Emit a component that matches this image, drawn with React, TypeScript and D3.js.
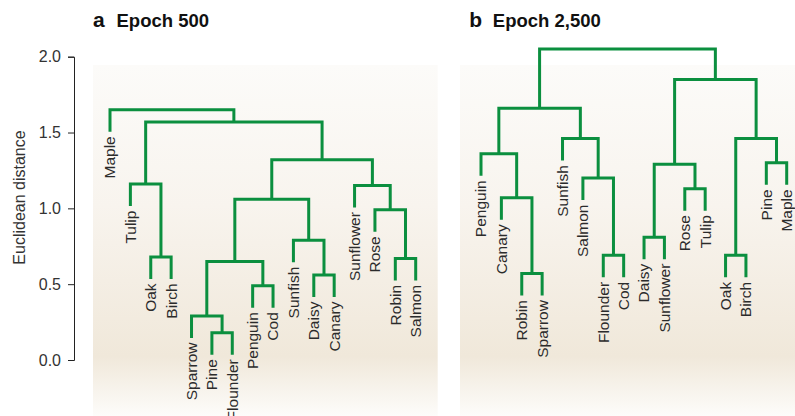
import React, { useEffect, useRef } from "react";
import * as d3 from "d3";

// leaf order (left to right) and linkage rows [childA, childB, height]
// indices < 16 are leaves, >= 16 refer to earlier rows
const leavesA = ["Maple", "Tulip", "Oak", "Birch", "Sparrow", "Pine", "Flounder", "Penguin", "Cod", "Sunfish", "Daisy", "Canary", "Sunflower", "Rose", "Robin", "Salmon"];
const mergesA: [number, number, number][] = [
  [5, 6, 0.18],
  [4, 16, 0.29],
  [7, 8, 0.49],
  [10, 11, 0.56],
  [17, 18, 0.65],
  [14, 15, 0.67],
  [2, 3, 0.68],
  [9, 19, 0.79],
  [13, 21, 0.99],
  [20, 23, 1.06],
  [12, 24, 1.15],
  [1, 22, 1.16],
  [25, 26, 1.32],
  [27, 28, 1.57],
  [0, 29, 1.65],
];

const leavesB = ["Penguin", "Canary", "Robin", "Sparrow", "Sunfish", "Salmon", "Flounder", "Cod", "Daisy", "Sunflower", "Rose", "Tulip", "Oak", "Birch", "Pine", "Maple"];
const mergesB: [number, number, number][] = [
  [2, 3, 0.57],
  [6, 7, 0.69],
  [12, 13, 0.69],
  [8, 9, 0.81],
  [1, 16, 1.07],
  [10, 11, 1.13],
  [5, 17, 1.2],
  [19, 21, 1.29],
  [14, 15, 1.3],
  [0, 20, 1.36],
  [4, 22, 1.46],
  [18, 24, 1.46],
  [25, 26, 1.66],
  [23, 27, 1.85],
  [28, 29, 2.05],
];

const yTicks = [0, 0.5, 1.0, 1.5, 2.0];

const GREEN = "#0b8f3f";
const TEXT = "#2b2b2b";
const FONT = "'Liberation Sans', Arial, Helvetica, sans-serif";
const STUB = 22;

export default function App() {
  const ref = useRef<SVGSVGElement>(null);

  useEffect(() => {
    const svg = d3.select(ref.current);
    svg.selectAll("*").remove();

    const y = d3.scaleLinear().domain([0, 2]).range([360, 56.7]);

    const defs = svg.append("defs");
    const grad = defs
      .append("linearGradient")
      .attr("id", "bg")
      .attr("x1", 0)
      .attr("y1", 0)
      .attr("x2", 0)
      .attr("y2", 1);
    grad.append("stop").attr("offset", "0%").attr("stop-color", "#fcfbf9");
    grad.append("stop").attr("offset", "40%").attr("stop-color", "#f8f4ee");
    grad.append("stop").attr("offset", "83%").attr("stop-color", "#f0e8da");
    grad.append("stop").attr("offset", "100%").attr("stop-color", "#fdfcfa");

    svg.append("rect").attr("x", 93).attr("y", 65).attr("width", 344.7).attr("height", 351).attr("fill", "url(#bg)");
    svg.append("rect").attr("x", 460).attr("y", 65).attr("width", 335).attr("height", 351).attr("fill", "url(#bg)");

    const drawTree = (leaves: string[], merges: [number, number, number][], x0: number, x1: number) => {
      const x = d3.scalePoint<string>().domain(leaves).range([x0, x1]);
      const n = leaves.length;
      const pos: { x: number; y: number }[] = leaves.map((l) => ({ x: x(l)!, y: NaN }));
      merges.forEach(([a, b, h]) => {
        pos.push({ x: (pos[a].x + pos[b].x) / 2, y: y(h) });
      });
      const g = svg.append("g");
      merges.forEach(([a, b, h]) => {
        const hy = y(h);
        const end = (i: number) => (i < n ? hy + STUB : pos[i].y);
        const p = d3.path();
        p.moveTo(pos[a].x, end(a));
        p.lineTo(pos[a].x, hy);
        p.lineTo(pos[b].x, hy);
        p.lineTo(pos[b].x, end(b));
        g.append("path")
          .attr("d", p.toString())
          .attr("fill", "none")
          .attr("stroke", GREEN)
          .attr("stroke-width", 3)
          .attr("stroke-linejoin", "miter");
        [a, b].forEach((i) => {
          if (i >= n) return;
          const ly = hy + STUB + 4.5;
          g.append("text")
            .attr("transform", `translate(${pos[i].x},${ly}) rotate(-90)`)
            .attr("text-anchor", "end")
            .attr("dy", "0.35em")
            .attr("font-family", FONT)
            .attr("font-size", 15.5)
            .attr("fill", TEXT)
            .text(leaves[i]);
        });
      });
    };

    drawTree(leavesA, mergesA, 110, 415.7);
    drawTree(leavesB, mergesB, 481, 786.7);

    // y axis
    const axis = d3
      .axisLeft(y)
      .tickValues(yTicks)
      .tickFormat(d3.format(".1f"))
      .tickSize(6)
      .tickPadding(7);
    const ax = svg.append("g").attr("transform", "translate(74,0)").call(axis);
    ax.attr("font-family", FONT).attr("font-size", 16);
    ax.selectAll("text").attr("fill", "#333");
    ax.selectAll("line").attr("stroke", "#222");
    ax.select(".domain").attr("stroke", "#222");

    svg
      .append("text")
      .attr("transform", "translate(19.5,197.5) rotate(-90)")
      .attr("text-anchor", "middle")
      .attr("dy", "0.35em")
      .attr("font-family", FONT)
      .attr("font-size", 16)
      .attr("fill", "#333")
      .text("Euclidean distance");

    // titles
    const title = (x: number, letter: string, label: string) => {
      const t = svg.append("text").attr("x", x).attr("y", 26.7).attr("font-family", FONT).attr("font-weight", "bold").attr("fill", "#111");
      t.append("tspan").attr("font-size", 21).text(letter);
      t.append("tspan").attr("x", x + 23.5).attr("font-size", 18.5).text(label);
    };
    title(93, "a", "Epoch 500");
    title(469.3, "b", "Epoch 2,500");
  }, []);

  return <svg ref={ref} width={795} height={416} style={{ position: "absolute", left: 0, top: 0, background: "#fff" }} />;
}
